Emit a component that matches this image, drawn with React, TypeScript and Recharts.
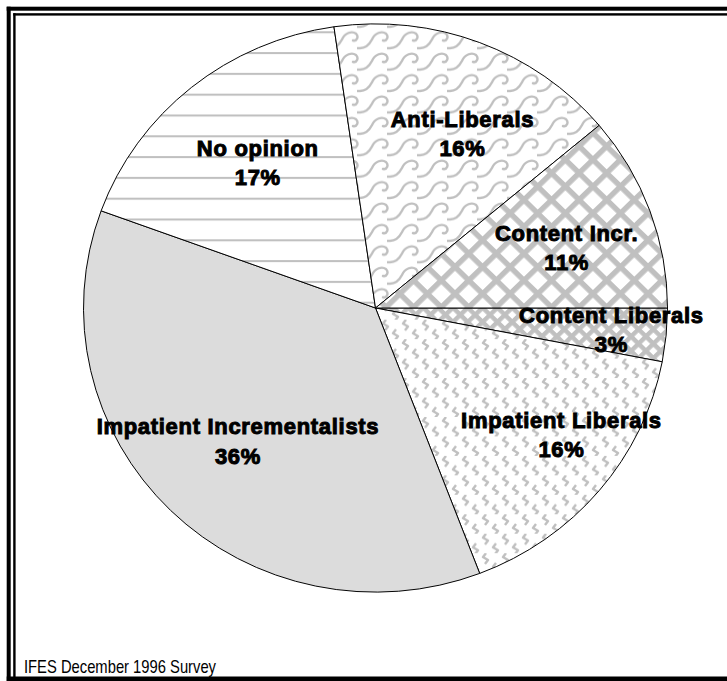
import React from 'react';
import { PieChart, Pie, Cell } from 'recharts';

// ---- data ----
const categories = [
  'Content Liberals',
  'Impatient Liberals',
  'Impatient Incrementalists',
  'No opinion',
  'Anti-Liberals',
  'Content Incr.',
];
const shares = [3, 16, 36, 17, 16, 11];
const footnote = 'IFES December 1996 Survey';

// ---- styling ----
const fills = [
  'url(#pLatticeSmall)',
  'url(#pZigzag)',
  '#dcdcdc',
  'url(#pHLines)',
  'url(#pWaves)',
  'url(#pLattice)',
];
// label placement: [radius, angle nudge in degrees]
const LABEL_LAYOUT: Record<string, [number, number]> = {
  'Content Liberals': [237, 0],
  'Impatient Liberals': [227, 5],
  'Impatient Incrementalists': [194, -0.6],
  'No opinion': [190, -0.8],
  'Anti-Liberals': [199, -5],
  'Content Incr.': [201, -2],
};

const data = categories.map((name, i) => ({ name, value: shares[i] }));

const PAT = '#c0c0c0';
const RAD = Math.PI / 180;

const renderLabel = (props: any) => {
  const { cx, cy, midAngle, name, value } = props;
  const [r, da] = LABEL_LAYOUT[name] || [200, 0];
  const a = midAngle + da;
  const x = cx + r * Math.cos(-a * RAD);
  const y = cy + r * Math.sin(-a * RAD);
  return (
    <text
      x={x}
      y={y}
      textAnchor="middle"
      fontFamily="'Liberation Sans', Arial, sans-serif"
      fontWeight={700}
      fontSize={22}
      letterSpacing={0.7}
      fill="#000"
      stroke="#000"
      strokeWidth={1}
    >
      <tspan x={x} y={y - 7}>{name}</tspan>
      <tspan x={x} y={y + 23}>{`${value}%`}</tspan>
    </text>
  );
};

export default function App() {
  return (
    <div style={{ position: 'absolute', left: 0, top: 0, width: 727, height: 681, background: '#fff', overflow: 'hidden' }}>
      <svg width={0} height={0} style={{ position: 'absolute' }}>
        <defs>
          <pattern id="pHLines" patternUnits="userSpaceOnUse" x={0} y={2.2} width={10} height={21.38}>
            <rect x={0} y={0} width={10} height={21.38} fill="#fff" />
            <rect x={0} y={0} width={10} height={2.1} fill={PAT} />
          </pattern>
          <pattern id="pWaves" patternUnits="userSpaceOnUse" x={0} y={0} width={30} height={22}>
            <rect x={0} y={0} width={30} height={22} fill="#fff" />
            <path
              d="M0,19 C7,19 10,14 12,10 C15,3 22,1 26,4 C29,7 27,12 23,11"
              fill="none"
              stroke={PAT}
              strokeWidth={2.4}
              strokeLinecap="round"
            />
            <path d="M27,19 L30,19" fill="none" stroke={PAT} strokeWidth={2.4} />
          </pattern>
          <pattern id="pLattice" patternUnits="userSpaceOnUse" x={0} y={0} width={19.5} height={19.5} patternTransform="rotate(45)">
            <rect x={0} y={0} width={19.5} height={19.5} fill="#fff" />
            <rect x={0} y={0} width={5.5} height={19.5} fill={PAT} />
            <rect x={0} y={0} width={19.5} height={5.5} fill={PAT} />
          </pattern>
          <pattern id="pLatticeSmall" patternUnits="userSpaceOnUse" x={0} y={0} width={10.5} height={10.5} patternTransform="rotate(45)">
            <rect x={0} y={0} width={10.5} height={10.5} fill="#fff" />
            <rect x={0} y={0} width={4.5} height={10.5} fill={PAT} />
            <rect x={0} y={0} width={10.5} height={4.5} fill={PAT} />
          </pattern>
          <pattern id="pZigzag" patternUnits="userSpaceOnUse" x={0} y={0} width={20} height={20}>
            <rect x={0} y={0} width={20} height={20} fill="#fff" />
            <path d="M6,0 L3,4 L8,7 L5,11" fill="none" stroke={PAT} strokeWidth={2.4} strokeLinejoin="round" />
            <path d="M16,10 L13,14 L18,17 L15,21" fill="none" stroke={PAT} strokeWidth={2.4} strokeLinejoin="round" />
          </pattern>
        </defs>
      </svg>

      <div style={{ position: 'absolute', left: 0, top: 0, transform: 'scaleY(0.973)', transformOrigin: '375.5px 308px' }}>
        <PieChart width={727} height={681} margin={{ top: 0, right: 0, bottom: 0, left: 0 }}>
          <Pie
            data={data}
            dataKey="value"
            nameKey="name"
            cx={375.5}
            cy={308}
            outerRadius={292}
            startAngle={0}
            endAngle={-360}
            stroke="#000"
            strokeWidth={1}
            isAnimationActive={false}
            labelLine={false}
            label={renderLabel}
          >
            {data.map((d, i) => (
              <Cell key={d.name} fill={fills[i]} stroke="#000" strokeWidth={1} />
            ))}
          </Pie>
        </PieChart>
      </div>

      <svg width={727} height={681} style={{ position: 'absolute', left: 0, top: 0, pointerEvents: 'none' }}>
        {/* outer thick frame */}
        <rect x={6.7} y={6.7} width={730} height={4} fill="#000" />
        <rect x={6.7} y={6.7} width={4} height={680} fill="#000" />
        <rect x={6.7} y={676.5} width={730} height={5} fill="#000" />
        {/* inner thin frame */}
        <rect x={13.2} y={13.2} width={720} height={2.4} fill="#000" />
        <rect x={13.2} y={13.2} width={2.4} height={670} fill="#000" />
        <text
          x={24}
          y={673}
          fontFamily="'Liberation Sans', Arial, sans-serif"
          fontSize={19}
          textLength={192}
          lengthAdjust="spacingAndGlyphs"
          fill="#000"
        >
          {footnote}
        </text>
      </svg>
    </div>
  );
}
